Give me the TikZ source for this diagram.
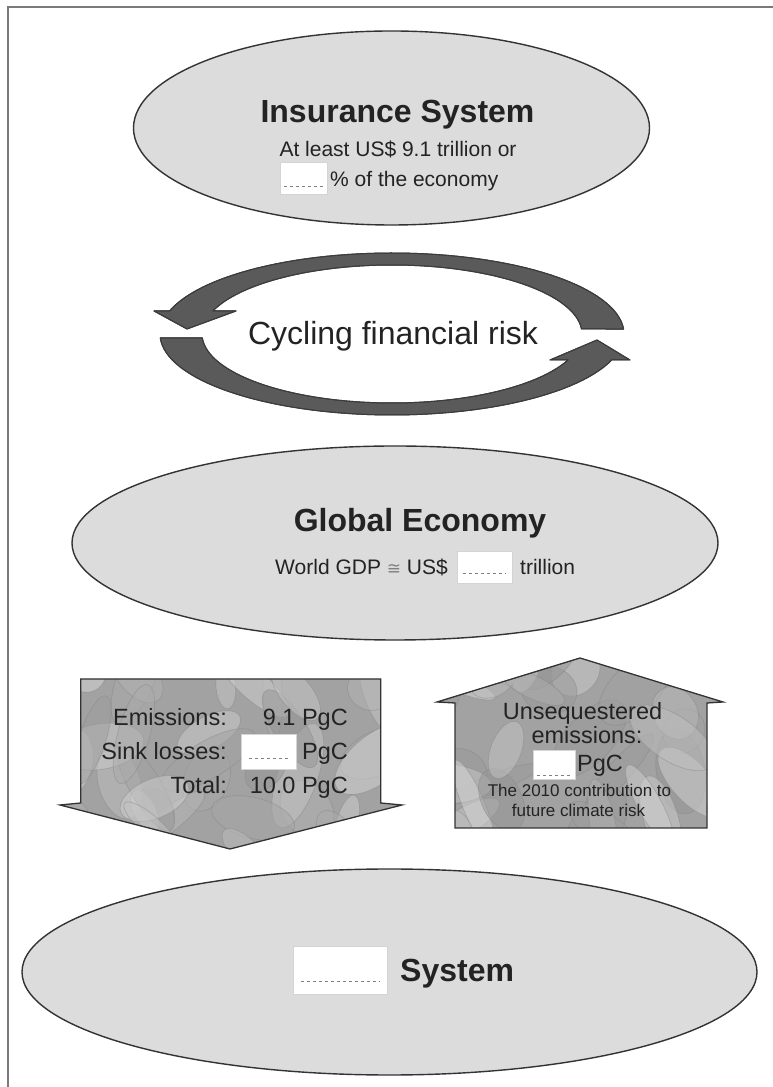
\documentclass[tikz,border=0pt]{standalone}
\usepackage{fontspec}
\setmainfont{Liberation Sans}
\newfontfamily\symfont{DejaVu Sans}
\usetikzlibrary{shapes.geometric}

\definecolor{ellfill}{HTML}{DCDCDC}
\definecolor{edge}{HTML}{333333}
\definecolor{ink}{HTML}{232323}
\definecolor{arrowgray}{HTML}{5A5A5A}
\definecolor{arrowedge}{HTML}{3C3C3C}
\definecolor{framegray}{HTML}{7A7A7A}
\definecolor{boxedge}{HTML}{D4D4D4}
\definecolor{marblebase}{HTML}{A2A2A2}

\begin{document}
\begin{tikzpicture}[x=1pt,y=1pt,
  oval/.style={ellipse, draw=edge, fill=ellfill, line width=1.4pt, inner sep=0pt},
  headline/.style={font=\fontsize{32}{36}\selectfont\bfseries, text=ink, inner sep=0pt},
  bodytext/.style={font=\fontsize{21}{25}\selectfont, text=ink, inner sep=0pt},
  bigtext/.style={font=\fontsize{32}{36}\selectfont, text=ink, inner sep=0pt},
  marbletext/.style={font=\fontsize{23.5}{27}\selectfont, text=ink, inner sep=0pt},
  smalltext/.style={font=\fontsize{17}{20}\selectfont, text=ink, inner sep=0pt},
  gapbox/.style={draw=boxedge, fill=white, line width=0.6pt, inner sep=0pt},
  dots/.style={draw=gray, line width=1pt, dash pattern=on 3pt off 3pt},
  ringarrow/.style={fill=arrowgray, draw=arrowedge, line width=1pt, line join=round},
  marbleedge/.style={draw=edge, line width=1.3pt, line join=miter},
  blob/.style={fill=white!#1!black, draw=white!52!black, line width=0.7pt, fill opacity=0.5, draw opacity=0.45}
]
\useasboundingbox (0,0) rectangle (773,1087);
\fill[white] (0,0) rectangle (773,1087);

% page frame
\draw[framegray, line width=2pt] (8,0) -- (8,1080) -- (773,1080);

% ---------- Insurance System ----------
\node[oval, minimum width=516pt, minimum height=194pt] (ins) at (391.5,959) {};
\node[headline, anchor=base] (insT) at (397.5,964) {Insurance System};
\node[bodytext, anchor=base] (insL) at (398,930.3) {At least US\$ 9.1 trillion or};
\node[gapbox, minimum width=47pt, minimum height=32pt] (insB) at (303.5,909) {};
\draw[dots] ([xshift=4pt,yshift=8pt]insB.south west) -- ([xshift=-4pt,yshift=8pt]insB.south east);
\node[bodytext, anchor=base west] (insP) at (330,900.3) {\% of the economy};

% ---------- Cycling financial risk ----------
\fill[ringarrow]
  plot[domain=3.5:163.5, samples=60] ({392+232*cos(\x)},{753+81*sin(\x)})
  -- (154,776) -- (187,758) -- (236,776)
  -- plot[domain=160.5:4.2, samples=60] ({392+190*cos(\x)},{753+69*sin(\x)})
  -- cycle;
\draw[ringarrow, fill=none]
  plot[domain=3.5:163.5, samples=60] ({392+232*cos(\x)},{753+81*sin(\x)})
  -- (154,776) -- (187,758) -- (236,776)
  -- plot[domain=160.5:4.2, samples=60] ({392+190*cos(\x)},{753+69*sin(\x)})
  -- cycle;
\fill[ringarrow]
  plot[domain=182.8:341.3, samples=60] ({392+232*cos(\x)},{753+81*sin(\x)})
  -- (630,727) -- (597,747) -- (550,727)
  -- plot[domain=337.9:183.3, samples=60] ({392+190*cos(\x)},{753+69*sin(\x)})
  -- cycle;
\draw[ringarrow, fill=none]
  plot[domain=182.8:341.3, samples=60] ({392+232*cos(\x)},{753+81*sin(\x)})
  -- (630,727) -- (597,747) -- (550,727)
  -- plot[domain=337.9:183.3, samples=60] ({392+190*cos(\x)},{753+69*sin(\x)})
  -- cycle;
\node[bigtext, anchor=base] (cyc) at (393,742) {Cycling financial risk};

% ---------- Global Economy ----------
\node[oval, minimum width=646pt, minimum height=194pt] (econ) at (395,544) {};
\node[headline, anchor=base] (econT) at (420,555) {Global Economy};
\node[bodytext, anchor=base east] (econL) at (448,512) {World GDP {\symfont\fontsize{17}{20}\selectfont\color{gray}≅} US\$};
\node[gapbox, minimum width=55pt, minimum height=32pt] (econB) at (484.5,520) {};
\draw[dots] ([xshift=6pt,yshift=10pt]econB.south west) -- ([xshift=-6pt,yshift=10pt]econB.south east);
\node[bodytext, anchor=base west] (econR) at (520,512) {trillion};

% ---------- Downward flow: emissions ----------
\begin{scope}
  \clip (80.7,408) -- (380.7,408) -- (380.7,284) -- (402,282) -- (230,238) -- (60,282) -- (80.7,284) -- cycle;
  \fill[marblebase] (55,230) rectangle (410,415);
  \pgfmathsetseed{5}
  \foreach \k in {1,...,38}{
    \pgfmathsetmacro{\px}{55+355*rnd}
    \pgfmathsetmacro{\py}{230+185*rnd}
    \pgfmathsetmacro{\ra}{20+35*rnd}
    \pgfmathsetmacro{\rb}{9+16*rnd}
    \pgfmathsetmacro{\ang}{180*rnd}
    \pgfmathtruncatemacro{\sh}{58+28*rnd}
    \filldraw[blob=\sh, rotate around={\ang:(\px,\py)}] (\px,\py) ellipse [x radius=\ra, y radius=\rb];
  }
\end{scope}
\draw[marbleedge] (80.7,408) -- (380.7,408) -- (380.7,284) -- (402,282) -- (230,238) -- (60,282) -- (80.7,284) -- cycle;

\node[marbletext, anchor=base east] (emL) at (227,361) {Emissions:};
\node[marbletext, anchor=base east] (emV) at (348,361) {9.1 PgC};
\node[marbletext, anchor=base east] (skL) at (227,327) {Sink losses:};
\node[gapbox, minimum width=55pt, minimum height=35pt] (skB) at (268.5,335.5) {};
\draw[dots] ([xshift=8pt,yshift=11pt]skB.south west) -- ([xshift=-8pt,yshift=11pt]skB.south east);
\node[marbletext, anchor=base east] (skV) at (348,327) {PgC};
\node[marbletext, anchor=base east] (totL) at (227,293) {Total:};
\node[marbletext, anchor=base east] (totV) at (348,293) {10.0 PgC};

% ---------- Upward flow: unsequestered emissions ----------
\begin{scope}
  \clip (580,429) -- (723,385) -- (707,384) -- (707,259) -- (455,259) -- (455,384) -- (437,385) -- cycle;
  \fill[marblebase] (430,250) rectangle (730,435);
  \pgfmathsetseed{17}
  \foreach \k in {1,...,32}{
    \pgfmathsetmacro{\px}{430+300*rnd}
    \pgfmathsetmacro{\py}{250+185*rnd}
    \pgfmathsetmacro{\ra}{20+35*rnd}
    \pgfmathsetmacro{\rb}{9+16*rnd}
    \pgfmathsetmacro{\ang}{180*rnd}
    \pgfmathtruncatemacro{\sh}{58+28*rnd}
    \filldraw[blob=\sh, rotate around={\ang:(\px,\py)}] (\px,\py) ellipse [x radius=\ra, y radius=\rb];
  }
\end{scope}
\draw[marbleedge] (580,429) -- (723,385) -- (707,384) -- (707,259) -- (455,259) -- (455,384) -- (437,385) -- cycle;

\node[marbletext, anchor=base] (unL1) at (582.5,367) {Unsequestered};
\node[marbletext, anchor=base] (unL2) at (587,343) {emissions:};
\node[gapbox, minimum width=42pt, minimum height=29pt] (unB) at (554,322.5) {};
\draw[dots] ([xshift=4pt,yshift=4pt]unB.south west) -- ([xshift=-4pt,yshift=4pt]unB.south east);
\node[marbletext, anchor=base west] (unV) at (577,315) {PgC};
\node[smalltext, anchor=base] (unS1) at (579.5,290) {The 2010 contribution to};
\node[smalltext, anchor=base] (unS2) at (578.5,270) {future climate risk};

% ---------- lower system ----------
\node[oval, minimum width=735pt, minimum height=206pt] (low) at (389.5,115) {};
\node[gapbox, minimum width=94pt, minimum height=48pt] (lowB) at (340,117) {};
\draw[dots] ([xshift=8pt,yshift=13pt]lowB.south west) -- ([xshift=-8pt,yshift=13pt]lowB.south east);
\node[headline, anchor=base west] (lowT) at (400,105.5) {System};
\end{tikzpicture}
\end{document}
